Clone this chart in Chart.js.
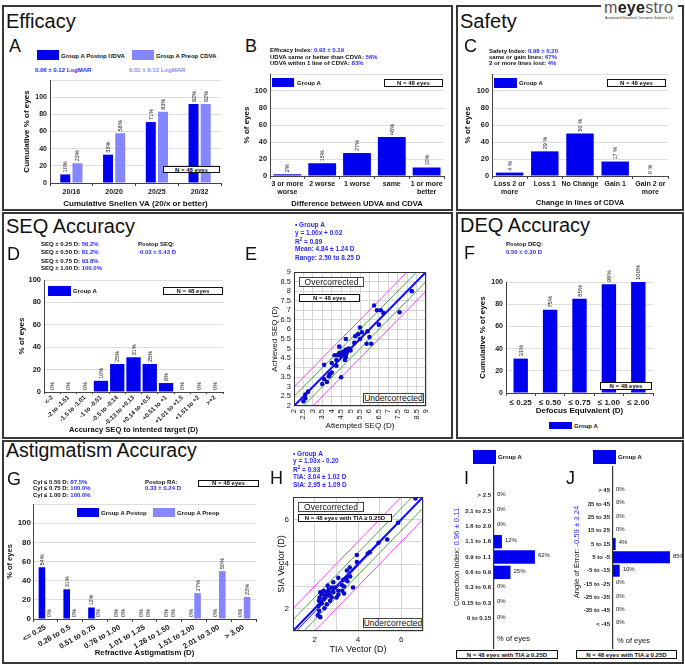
<!DOCTYPE html>
<html><head><meta charset="utf-8">
<script src="https://cdn.jsdelivr.net/npm/chart.js@4.4.1/dist/chart.umd.min.js"></script>
<style>
html,body{margin:0;padding:0;background:#fff;}
body{width:685px;height:665px;position:relative;overflow:hidden;font-family:'Liberation Sans',Arial,Helvetica,sans-serif;color:#111;}
</style></head><body>
<script>
// ---------------- DATA ----------------
const A_CATS = ['20/16','20/20','20/25','20/32'];
const A_POSTOP_UDVA = [10,33,71,92];
const A_PREOP_CDVA = [23,58,83,92];

const B_CATS = [['3 or more','worse'],'2 worse','1 worse','same',['1 or more','better']];
const B_VALUES = [2,15,27,46,10];

const C_CATS = [['Loss 2 or','more'],'Loss 1','No Change','Gain 1',['Gain 2 or','more']];
const C_VALUES = [4,29,50,17,0];

const D_CATS = ['<-2','-2 to -1.51','-1.5 to -1.01','-1 to -0.51','-0.5 to -0.14','-0.13 to +0.13','+0.14 to +0.5','+0.51 to +1','+1.01 to +1.5','+1.51 to +2','>+2'];
const D_VALUES = [0,0,0,10,25,31,25,8,0,0,0];

const E_ATTEMPTED = [8.25,6.25,6.4,6.6,6.75,7.6,6.5,5.5,5.4,5.6,5.9,5.25,6.0,5.5,5.2,5.85,6.1,4.75,4.4,4.15,4.3,4.4,4.55,4.65,4.75,4.9,5.0,4.75,4.65,4.5,4.75,4.7,4.25,3.6,4.0,4.25,4.0,3.9,3.85,3.6,3.75,3.5,4.5,2.75,2.6,2.6,2.5,4.8];
const E_ACHIEVED  = [8.0,7.25,7.0,7.0,6.85,6.9,6.25,6.1,5.75,5.85,5.9,5.65,5.6,5.5,5.3,5.25,5.25,5.5,5.1,4.65,4.65,4.75,4.8,4.85,4.95,5.0,4.9,4.7,4.65,4.6,4.55,4.4,4.4,4.15,4.25,4.1,3.75,3.65,3.55,3.4,3.25,3.15,3.5,2.75,2.6,2.4,2.25,4.8];
const E_FIT = [1.00, 0.02];
const E_RANGE = [2, 9];

const F_CATS = ['\u2264 0.25','\u2264 0.50','\u2264 0.75','\u2264 1.00','\u2264 2.00'];
const F_VALUES = [31,75,85,98,100];

const G_CATS = ['<= 0.25','0.26 to 0.5','0.51 to 0.75','0.76 to 1.00','1.01 to 1.25','1.26 to 1.50','1.51 to 2.00','2.01 to 3.00','> 3.00'];
const G_POSTOP = [54,31,12,0,0,0,0,0,0];
const G_PREOP  = [0,0,0,0,0,0,27,50,23];

const H_TIA = [6.65,5.85,5.35,4.95,4.55,4.45,3.95,3.95,3.62,3.49,3.64,3.47,3.51,3.32,3.36,3.09,3.27,3.09,3.36,2.94,2.79,2.64,2.86,2.71,2.49,2.56,2.33,2.26,2.23,2.41,2.33,2.18,2.45,2.21,2.26,2.15,3.01,3.09,2.71,2.56,2.79,2.6,2.41,2.86,3.27,3.77,2.2,2.5];
const H_SIA = [6.93,5.85,5.1,4.95,4.53,4.47,4.4,4.09,3.84,3.71,3.44,3.38,3.23,3.29,2.99,3.38,3.05,2.8,2.68,2.95,2.95,2.84,2.73,2.58,2.53,2.73,2.65,2.73,2.5,2.43,2.23,2.12,2.02,1.9,1.62,1.71,2.5,2.62,2.35,2.2,2.5,3.03,2.8,3.18,2.8,2.95,2.35,2.6];
const H_FIT = [1.03, -0.20];
const H_RANGE = [1, 7];
const BAND_OFFSETS = [0.5, 1.0];

const I_CATS = ['> 2.5','2.1 to 2.5','1.6 to 2.0','1.1 to 1.6','0.9 to 1.1','0.6 to 0.9','0.3 to 0.6','0.15 to 0.3','0 to 0.15'];
const I_VALUES = [0,0,0,12,62,25,0,0,0];
const J_CATS = ['> 45','35 to 45','25 to 35','15 to 25','5 to 15','5 to -5','-5 to -15','-15 to -25','-25 to -35','-35 to -45','< -45'];
const J_VALUES = [0,0,0,0,4,85,10,0,0,0,0];

// ---------------- STYLE ----------------
const BLUE='#0000f0', LIGHT='#8686ff', TB='#2b2bff', TL='#8a8aff';
const GREEN='#55a055', MAGENTA='#ff40ff', DOT='#0a0acc';
const FONT="'Liberation Sans', Arial, sans-serif";
Chart.defaults.font.family = FONT;
Chart.defaults.color = '#1a1a1a';
const fnt=(size,weight='bold',lh=1.2)=>({family:FONT,size,weight,lineHeight:lh});

// ---------------- HTML helpers ----------------
function el(css, html){ const e=document.createElement('div'); e.style.cssText='position:absolute;'+css; if(html!==undefined) e.innerHTML=html; document.body.appendChild(e); return e; }
function txt(x,yc,size,html,extra=''){ return el(`left:${x}px;top:${yc-size/2}px;font-size:${size}px;line-height:1;white-space:nowrap;z-index:5;${extra}`, html); }
function nbox(x1,y1,x2,y2,size,html,extra=''){ return el(`left:${x1}px;top:${y1}px;width:${x2-x1}px;height:${y2-y1}px;border:1px solid #111;background:#fff;box-sizing:border-box;display:flex;align-items:center;justify-content:center;font-size:${size}px;font-weight:bold;line-height:1;z-index:5;white-space:nowrap;${extra}`, html); }
function swatch(x1,y1,x2,y2,c){ return el(`left:${x1}px;top:${y1}px;width:${x2-x1}px;height:${y2-y1}px;background:${c};z-index:5;`); }
function rtxt(xc,yc,size,html){ return el(`left:${xc}px;top:${yc}px;transform:translate(-50%,-50%) rotate(-90deg);font-size:${size}px;line-height:1;white-space:nowrap;z-index:5;`, html); }
const B=(s)=>`<b>${s}</b>`, V=(s)=>`<span style="color:${TB}">${s}</span>`, VL=(s)=>`<span style="color:${TL}">${s}</span>`;
function frame(x,y,w,h){ el(`left:${x}px;top:${y}px;width:${w}px;height:${h}px;border:2px solid #383838;box-sizing:border-box;z-index:1;`); }

// ---------------- Chart helpers ----------------
function mkCanvas(r){ const c=document.createElement('canvas'); c.width=r.w; c.height=r.h; c.style.cssText=`position:absolute;left:${r.x}px;top:${r.y}px;width:${r.w}px;height:${r.h}px;z-index:2;`; document.body.appendChild(c); return c; }
function zeroPad(s){ s.paddingLeft=0; s.paddingRight=0; s.paddingTop=0; s.paddingBottom=0; }
const barLabels = {
  id:'barLabels',
  afterDatasetsDraw(chart, args, o){
    if(!o || !o.on) return;
    const ctx=chart.ctx; ctx.save();
    ctx.font=o.font; ctx.fillStyle='#1a1a1a';
    chart.data.datasets.forEach((ds,di)=>{
      const meta=chart.getDatasetMeta(di);
      meta.data.forEach((e,i)=>{
        const raw=ds.data[i]; const v=(typeof raw==='object')?raw.x:raw;
        const t=v+(o.suffix||'%');
        if(o.horizontal){ ctx.textAlign='left'; ctx.textBaseline='middle'; ctx.fillText(t,e.x+3,e.y-1.5); }
        else { ctx.save(); ctx.translate(e.x+0.5,e.y-2); ctx.rotate(-Math.PI/2); ctx.textAlign='left'; ctx.textBaseline='middle'; ctx.fillText(t,0,0); ctx.restore(); }
      });
    });
    ctx.restore();
  }
};
const plotFrame = { id:'plotFrame', afterDraw(chart){ const a=chart.chartArea, c=chart.ctx; c.save(); c.strokeStyle='#333'; c.lineWidth=1; c.strokeRect(a.left+0.5,a.top+0.5,a.right-a.left-1,a.bottom-a.top-1); c.restore(); } };

function vbar(r,p,cfg){
  const yW=p.l-r.x, xH=r.y+r.h-p.b;
  return new Chart(mkCanvas(r),{
    type:'bar',
    data:{labels:cfg.labels,datasets:cfg.datasets},
    plugins:[barLabels],
    options:{
      responsive:false,animation:false,devicePixelRatio:1,
      layout:{padding:{top:p.t-r.y,right:r.x+r.w-p.r,left:0,bottom:0}},
      plugins:{legend:{display:false},tooltip:{enabled:false},barLabels:{on:true,font:cfg.lblFont||('5.5px '+FONT),suffix:cfg.suffix}},
      scales:{
        x:{afterFit:s=>{s.height=xH;zeroPad(s);},
           ticks:{font:cfg.xFont,color:'#1a1a1a',padding:cfg.xPad??2,autoSkip:false,maxRotation:cfg.rot||0,minRotation:cfg.rot||0},
           grid:{drawOnChartArea:false,tickLength:cfg.tl??3,color:'#444'},border:{color:'#444'},
           title:{display:true,text:cfg.xTitle,font:cfg.xTitleFont,color:'#111',padding:{top:0,bottom:0}}},
        y:{min:0,max:cfg.yMax,afterFit:s=>{s.width=yW;zeroPad(s);},
           ticks:{stepSize:20,autoSkip:false,font:cfg.yFont,color:'#1a1a1a',padding:cfg.yPad??3,callback:v=>v<=100?v:''},
           grid:{color:'#dedede',drawTicks:false},border:{color:'#444'},
           title:{display:true,text:cfg.yTitle,font:cfg.yTitleFont,color:'#111',padding:{top:0,bottom:0}}}
      }
    }
  });
}
const lineOf=(slope,icpt,range)=>range.map(x=>({x,y:slope*x+icpt}));
function scatterChart(r,p,cfg){
  const yW=p.l-r.x, xH=r.y+r.h-p.b;
  const pts=cfg.xs.map((x,i)=>({x,y:cfg.ys[i]}));
  const ds=[{data:pts,backgroundColor:DOT,borderColor:DOT,pointRadius:2.3,pointBorderWidth:0}];
  ds.push({data:lineOf(cfg.fit[0],cfg.fit[1],cfg.range),showLine:true,borderColor:'#1a1aff',borderWidth:1,pointRadius:0});
  ds.push({data:lineOf(1,0,cfg.range),showLine:true,borderColor:'#0a0aff',borderWidth:2,pointRadius:0});
  BAND_OFFSETS.forEach((o,k)=>{ [o,-o].forEach(off=>ds.push({data:lineOf(1,off,cfg.range),showLine:true,borderColor:k===0?GREEN:MAGENTA,borderWidth:1,pointRadius:0})); });
  const axis=(horiz)=>({type:'linear',min:cfg.range[0],max:cfg.range[1],
     afterFit:s=>{ if(horiz) s.height=xH; else s.width=yW; zeroPad(s);},
     ticks:{stepSize:cfg.step,autoSkip:false,font:fnt(cfg.tickSize,'normal'),color:'#1a1a1a',padding:horiz?cfg.xPad:cfg.yPad,
            maxRotation:horiz?cfg.rot:0,minRotation:horiz?cfg.rot:0,callback:cfg.cb||(v=>v)},
     grid:{color:'#d6d6d6',drawTicks:false},border:{display:false},
     title:{display:true,text:horiz?cfg.xTitle:cfg.yTitle,font:fnt(cfg.titleSize,'normal'),color:'#111',padding:{top:0,bottom:0}}});
  return new Chart(mkCanvas(r),{type:'scatter',data:{datasets:ds},plugins:[plotFrame],
    options:{responsive:false,animation:false,devicePixelRatio:1,
      layout:{padding:{top:p.t-r.y,right:r.x+r.w-p.r,left:0,bottom:0}},
      plugins:{legend:{display:false},tooltip:{enabled:false}},
      scales:{x:axis(true),y:axis(false)}}});
}
function hbar(r,p,cats,vals,cfg){
  return new Chart(mkCanvas(r),{type:'bar',
    data:{datasets:[{data:vals.map((v,i)=>({x:v,y:i})),backgroundColor:BLUE,barPercentage:cfg.bp,categoryPercentage:1}]},
    plugins:[barLabels],
    options:{indexAxis:'y',responsive:false,animation:false,devicePixelRatio:1,
      layout:{padding:{top:p.t-r.y,right:r.x+r.w-p.r,left:0,bottom:r.y+r.h-p.b}},
      plugins:{legend:{display:false},tooltip:{enabled:false},barLabels:{on:true,horizontal:true,font:'6px '+FONT}},
      scales:{x:{display:false,min:0,max:100},
        y:{type:'linear',reverse:true,min:cfg.min,max:cfg.max,
           afterBuildTicks:s=>{s.ticks=cats.map((c,i)=>({value:i}));},
           afterFit:s=>{s.width=p.l-r.x;zeroPad(s);},
           ticks:{font:fnt(6),color:'#1a1a1a',padding:3,autoSkip:false,callback:v=>cats[v]},
           grid:{display:false,drawTicks:false},border:{display:true,color:'#333',width:1.2}}}}});
}

// ---------------- PANEL FRAMES ----------------
frame(2,5,451,206); frame(456,5,228,206); frame(2,212,451,227); frame(456,212,228,227); frame(2,440,682,224);
el('left:601px;top:0px;width:77px;height:22px;background:#fff;z-index:3;');
txt(604,8,16,'<span style="color:#555">m</span><b style="color:#222">eye</b><span style="color:#555">stro</span>','letter-spacing:0.3px;');
el('left:605px;top:15.5px;font-size:7px;line-height:1;white-space:nowrap;transform:scale(0.49);transform-origin:0 0;z-index:5;color:#333;','Automated Standard Outcomes Software 1.0');

// ---------------- A ----------------
txt(6,21,20,'Efficacy'); txt(9,46,18,'A');
swatch(37,50,59,60,BLUE); txt(61,55.5,6,B('Group A Postop UDVA'));
swatch(132,50,154,60,LIGHT); txt(156,55.5,6,B('Group A Preop CDVA'));
txt(35,70,6,B(V('0.06 \u00b1 0.12 LogMAR'))); txt(129,70,6,B(VL('0.01 \u00b1 0.12 LogMAR')));
nbox(163,166,220,173,6,'N = 48 eyes');
vbar({x:22,y:78,w:201,h:131},{l:50,t:80,r:221,b:183},{labels:A_CATS,yMax:120,
  datasets:[{data:A_POSTOP_UDVA,backgroundColor:BLUE,categoryPercentage:0.57,barPercentage:0.82},
            {data:A_PREOP_CDVA,backgroundColor:LIGHT,categoryPercentage:0.57,barPercentage:0.82}],
  xFont:fnt(7),yFont:fnt(7),xTitle:'Cumulative Snellen VA (20/x or better)',yTitle:'Cumulative % of eyes',xTitleFont:fnt(8),yTitleFont:fnt(8),xPad:2});

// ---------------- B ----------------
txt(245,46,18,'B');
txt(270,50,6,B('Efficacy Index: '+V('0.92 \u00b1 0.19')));
txt(270,56.7,6,B('UDVA same or better than CDVA: '+V('56%')));
txt(270,62.7,6,B('UDVA within 1 line of CDVA: '+V('83%')));
swatch(272,78,294,87,BLUE); txt(297,82.7,6,B('Group A'));
nbox(384,79,443,87,6,'N = 48 eyes');
vbar({x:242,y:72,w:204,h:136},{l:270,t:74,r:444,b:176},{labels:B_CATS,yMax:120,
  datasets:[{data:B_VALUES,backgroundColor:BLUE,categoryPercentage:1,barPercentage:0.8}],
  xFont:fnt(7,'bold',1.15),yFont:fnt(7.4),xTitle:'Difference between UDVA and CDVA',yTitle:'% of eyes',xTitleFont:fnt(7.6),yTitleFont:fnt(8),xPad:1});

// ---------------- C ----------------
txt(460,21,20,'Safety'); txt(464,46.3,18,'C');
txt(489,50.7,6,B('Safety Index: '+V('0.98 \u00b1 0.20')));
txt(489,56.7,6,B('same or gain lines: '+V('67%')));
txt(489,62.7,6,B('2 or more lines lost: '+V('4%')));
swatch(494,78,517,88,BLUE); txt(519,83,6,B('Group A'));
nbox(607,79,666,86.5,6,'N = 48 eyes');
vbar({x:463,y:72,w:207,h:135},{l:492,t:74,r:668,b:176},{labels:C_CATS,yMax:120,suffix:' %',
  datasets:[{data:C_VALUES,backgroundColor:BLUE,categoryPercentage:1,barPercentage:0.78}],
  xFont:fnt(7,'bold',1.15),yFont:fnt(7.4),xTitle:'Change in lines of CDVA',yTitle:'% of eyes',xTitleFont:fnt(7.6),yTitleFont:fnt(8),xPad:1});

// ---------------- D ----------------
txt(6,225.5,20,'SEQ Accuracy'); txt(7,253.7,18,'D');
txt(41,244.3,6,B('SEQ \u00b1 0.25 D: '+V('56.2%')));
txt(41,252.3,6,B('SEQ \u00b1 0.50 D: '+V('81.2%')));
txt(41,260.7,6,B('SEQ \u00b1 0.75 D: '+V('93.8%')));
txt(41,268.3,6,B('SEQ \u00b1 1.00 D: '+V('100.0%')));
txt(138,244.3,6,B('Postop SEQ:')); txt(138,252.3,6,B(V('-0.03 \u00b1 0.43 D')));
swatch(48,286,71,296,BLUE); txt(73,291,6,B('Group A'));
nbox(163,287,223,295,6,'N = 48 eyes');
vbar({x:17,y:270,w:208,h:164},{l:44,t:280,r:223,b:392},{labels:D_CATS,yMax:100,rot:45,tl:2,
  datasets:[{data:D_VALUES,backgroundColor:BLUE,categoryPercentage:1,barPercentage:0.88}],
  xFont:fnt(6.2),yFont:fnt(7.5),xTitle:'Accuracy SEQ to intented target (D)',yTitle:'% of eyes',xTitleFont:fnt(7.6),yTitleFont:fnt(8),xPad:0});

// ---------------- E ----------------
txt(245,253.7,18,'E');
txt(295,225,6.5,B(V('\u2022 Group A')));
txt(295,233.3,6.5,B(V('y = 1.00x + 0.02')));
txt(295,241.5,6.5,B(V('R<sup style="font-size:4.5px">2</sup> = 0.89')));
txt(295,249.7,6.5,B(V('Mean: 4.84 \u00b1 1.24 D')));
txt(295,258,6.5,B(V('Range: 2.50 to 8.25 D')));
nbox(299,277,364,286.5,8.5,'Overcorrected','font-weight:normal;border-color:#444;');
nbox(299,294,360,302,6,'N = 48 eyes');
nbox(363,393,424,402.5,8.5,'Undercorrected','font-weight:normal;border-color:#444;');
scatterChart({x:270,y:266,w:160,h:165},{l:294,t:272,r:427,b:406},{xs:E_ATTEMPTED,ys:E_ACHIEVED,fit:E_FIT,range:E_RANGE,step:0.5,
  tickSize:7.5,titleSize:8,rot:90,xPad:3,yPad:3,xTitle:'Attempted SEQ (D)',yTitle:'Achieved SEQ (D)'});

// ---------------- F ----------------
txt(460,225,20,'DEQ Accuracy'); txt(464,253.3,18,'F');
txt(506,244.3,6,B('Postop DEQ:')); txt(506,252.3,6,B(V('0.50 \u00b1 0.30 D')));
nbox(600,382,652,390,6,'N = 48 eyes');
swatch(549,422,572,429,BLUE); txt(574,425.7,6,B('Group A'));
vbar({x:478,y:255,w:178,h:161},{l:506,t:282,r:653,b:393},{labels:F_CATS,yMax:100,lblFont:'6px '+FONT,
  datasets:[{data:F_VALUES,backgroundColor:BLUE,categoryPercentage:1,barPercentage:0.49}],
  xFont:fnt(8),yFont:fnt(7),xTitle:'Defocus Equivalent (D)',yTitle:'Cumulative % of eyes',xTitleFont:fnt(8),yTitleFont:fnt(8),xPad:2});

// ---------------- G ----------------
txt(6,450.5,19.5,'Astigmatism Accuracy'); txt(7,478.7,18,'G');
txt(33,481.7,6,B('Cyl \u2264 0.50 D: '+V('87.5%')));
txt(33,488.3,6,B('Cyl \u2264 0.75 D: '+V('100.0%')));
txt(33,495,6,B('Cyl \u2264 1.00 D: '+V('100.0%')));
txt(145,481.7,6,B('Postop RA:')); txt(145,488.3,6,B(V('0.33 \u00b1 0.24 D')));
nbox(198,480,259,486.5,6,'N = 48 eyes');
swatch(77,508,99,517,BLUE); txt(101,512.5,6,B('Group A Postop'));
swatch(153,508,175,517,LIGHT); txt(177,512.5,6,B('Group A Preop'));
vbar({x:5,y:497,w:253,h:161},{l:33,t:504,r:256,b:619},{labels:G_CATS,yMax:120,rot:30,
  datasets:[{data:G_POSTOP,backgroundColor:BLUE,categoryPercentage:0.56,barPercentage:0.95},
            {data:G_PREOP,backgroundColor:LIGHT,categoryPercentage:0.56,barPercentage:0.95}],
  xFont:fnt(7.5),yFont:fnt(8),xTitle:'Refractive Astigmatism (D)',yTitle:'% of eyes',xTitleFont:fnt(7.8),yTitleFont:fnt(7.5),xPad:1,yPad:2});

// ---------------- H ----------------
txt(270,478.3,18,'H');
txt(293,454,6.5,B(V('\u2022 Group A')));
txt(293,461.3,6.5,B(V('y = 1.03x - 0.20')));
txt(293,469.3,6.5,B(V('R<sup style="font-size:4.5px">2</sup> = 0.93')));
txt(293,477.3,6.5,B(V('TIA: 3.04 \u00b1 1.02 D')));
txt(293,485.3,6.5,B(V('SIA: 2.95 \u00b1 1.09 D')));
nbox(298,502,364,511.5,8.5,'Overcorrected','font-weight:normal;border-color:#444;');
nbox(298,514,392,521.5,6,'N = 48 eyes with TIA \u2265 0.25D');
nbox(363,618,423,627.5,8.5,'Undercorrected','font-weight:normal;border-color:#444;');
scatterChart({x:276,y:492,w:151,h:163},{l:293,t:497,r:424,b:631},{xs:H_TIA,ys:H_SIA,fit:H_FIT,range:H_RANGE,step:1,
  tickSize:8,titleSize:9,rot:0,xPad:4,yPad:4,cb:v=>(v%2===0?v:''),xTitle:'TIA Vector (D)',yTitle:'SIA Vector (D)'});

// ---------------- I ----------------
txt(464,477.5,18,'I');
swatch(473,450,496,464,BLUE); txt(498,457,6,B('Group A'));
rtxt(457.3,556.7,7.7,'Correction Index: '+V('0.96 \u00b1 0.11'));
txt(497,638.3,7.5,'% of eyes');
nbox(456,650,558,659,6,'N = 48 eyes with TIA \u2265 0.25D');
hbar({x:462,y:462,w:113,h:190},{l:494,t:467,r:560,b:648},I_CATS,I_VALUES,{bp:0.87,min:-1.21,max:9.27});

// ---------------- J ----------------
txt(566,477.5,18,'J');
swatch(593,450,616,464,BLUE); txt(618,457,6,B('Group A'));
rtxt(577.3,551.7,7.7,'Angle of Error: '+V('-0.59 \u00b1 3.24'));
txt(617,641,7.5,'% of eyes');
nbox(576,650,677,659,6,'N = 48 eyes with TIA \u2265 0.25D');
hbar({x:584,y:462,w:99,h:190},{l:613,t:467,r:680,b:648},J_CATS,J_VALUES,{bp:0.9,min:-1.16,max:11.18});
</script>
</body></html>
